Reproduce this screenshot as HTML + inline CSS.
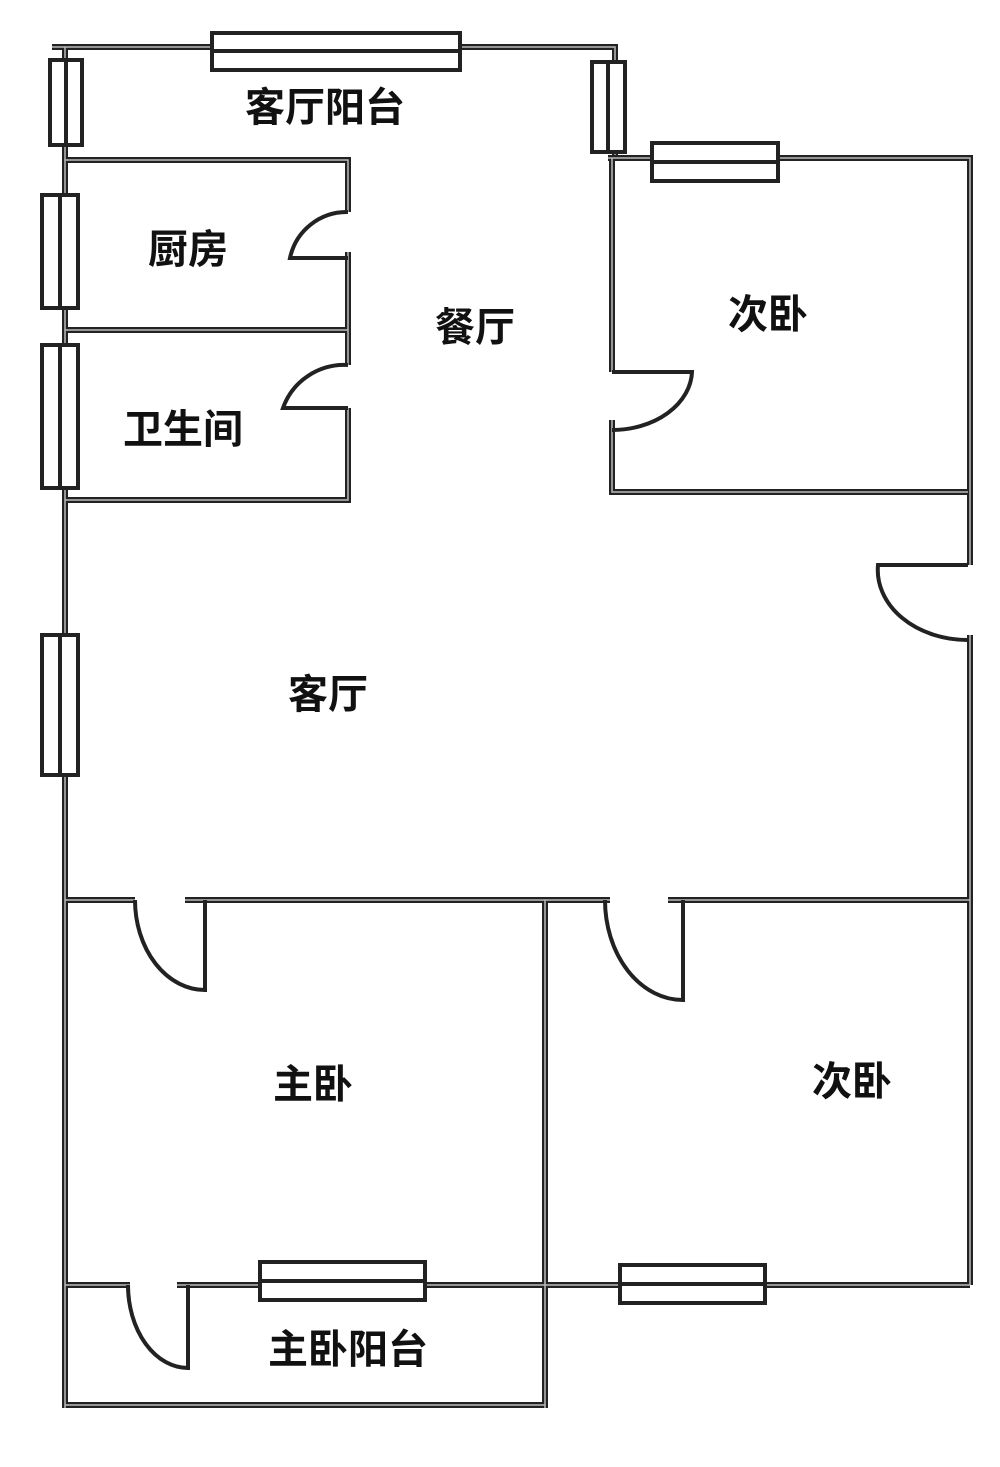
<!DOCTYPE html>
<html><head><meta charset="utf-8"><style>
html,body{margin:0;padding:0;background:#fff}
svg{display:block}
text{font-family:"Liberation Sans","Noto Sans CJK SC",sans-serif;font-size:40px;font-weight:bold;fill:#111;text-anchor:middle;dominant-baseline:central}
</style></head><body>
<svg width="1000" height="1467" viewBox="0 0 1000 1467" xmlns="http://www.w3.org/2000/svg">
<defs>
<g id="walls">
<path d="M52 47 H615 V155 M65 47 V1408 M65 160 H348 V212 M348 252 V330 M65 330 H348 V365 M348 408 V500 H65
M608 158 H970 V565 M970 635 V1285 M612 158 V372 M612 420 V492 H968
M65 900 H135 M185 900 H610 M668 900 H970 M545 900 V1408
M65 1285 H130 M177 1285 H970 M65 1405 H545"/>
</g>
</defs>
<g fill="none" stroke="#222" stroke-width="6"><use href="#walls"/></g>
<g fill="none" stroke="#bbb" stroke-width="1.5"><use href="#walls"/></g>
<g fill="none" stroke="#222" stroke-width="4">
<path d="M348 258 H290 A58 58 0 0 1 348 212"/>
<path d="M348 408 H283 A65 65 0 0 1 348 365"/>
<path d="M612 372 H692 A80 60 0 0 1 612 430"/>
<path d="M968 565 H878 A90 70 0 0 0 968 640"/>
<path d="M205 900 V990 A70 90 0 0 1 135 900"/>
<path d="M683 900 V1000 A78 100 0 0 1 605 900"/>
<path d="M188 1285 V1368 A60 83 0 0 1 128 1285"/>
</g>
<g fill="#fff" stroke="#222" stroke-width="4">
<rect x="212" y="33" width="248" height="37"/>
<rect x="50" y="60" width="32" height="85"/>
<rect x="592" y="62" width="33" height="90"/>
<rect x="652" y="143" width="126" height="38"/>
<rect x="42" y="195" width="36" height="113"/>
<rect x="42" y="345" width="36" height="143"/>
<rect x="42" y="635" width="36" height="140"/>
<rect x="260" y="1262" width="165" height="38"/>
<rect x="620" y="1265" width="145" height="38"/>
</g>
<g stroke="#222" stroke-width="4">
<line x1="212" y1="51" x2="460" y2="51"/>
<line x1="66" y1="60" x2="66" y2="145"/>
<line x1="608" y1="62" x2="608" y2="152"/>
<line x1="652" y1="162" x2="778" y2="162"/>
<line x1="60" y1="195" x2="60" y2="308"/>
<line x1="60" y1="345" x2="60" y2="488"/>
<line x1="60" y1="635" x2="60" y2="775"/>
<line x1="260" y1="1281" x2="425" y2="1281"/>
<line x1="620" y1="1284" x2="765" y2="1284"/>
</g>
<text x="325" y="108">客厅阳台</text>
<text x="188" y="250">厨房</text>
<text x="475" y="328">餐厅</text>
<text x="183" y="430">卫生间</text>
<text x="768" y="315">次卧</text>
<text x="328" y="695">客厅</text>
<text x="313" y="1085">主卧</text>
<text x="852" y="1082">次卧</text>
<text x="348" y="1350">主卧阳台</text>
</svg>
</body></html>
